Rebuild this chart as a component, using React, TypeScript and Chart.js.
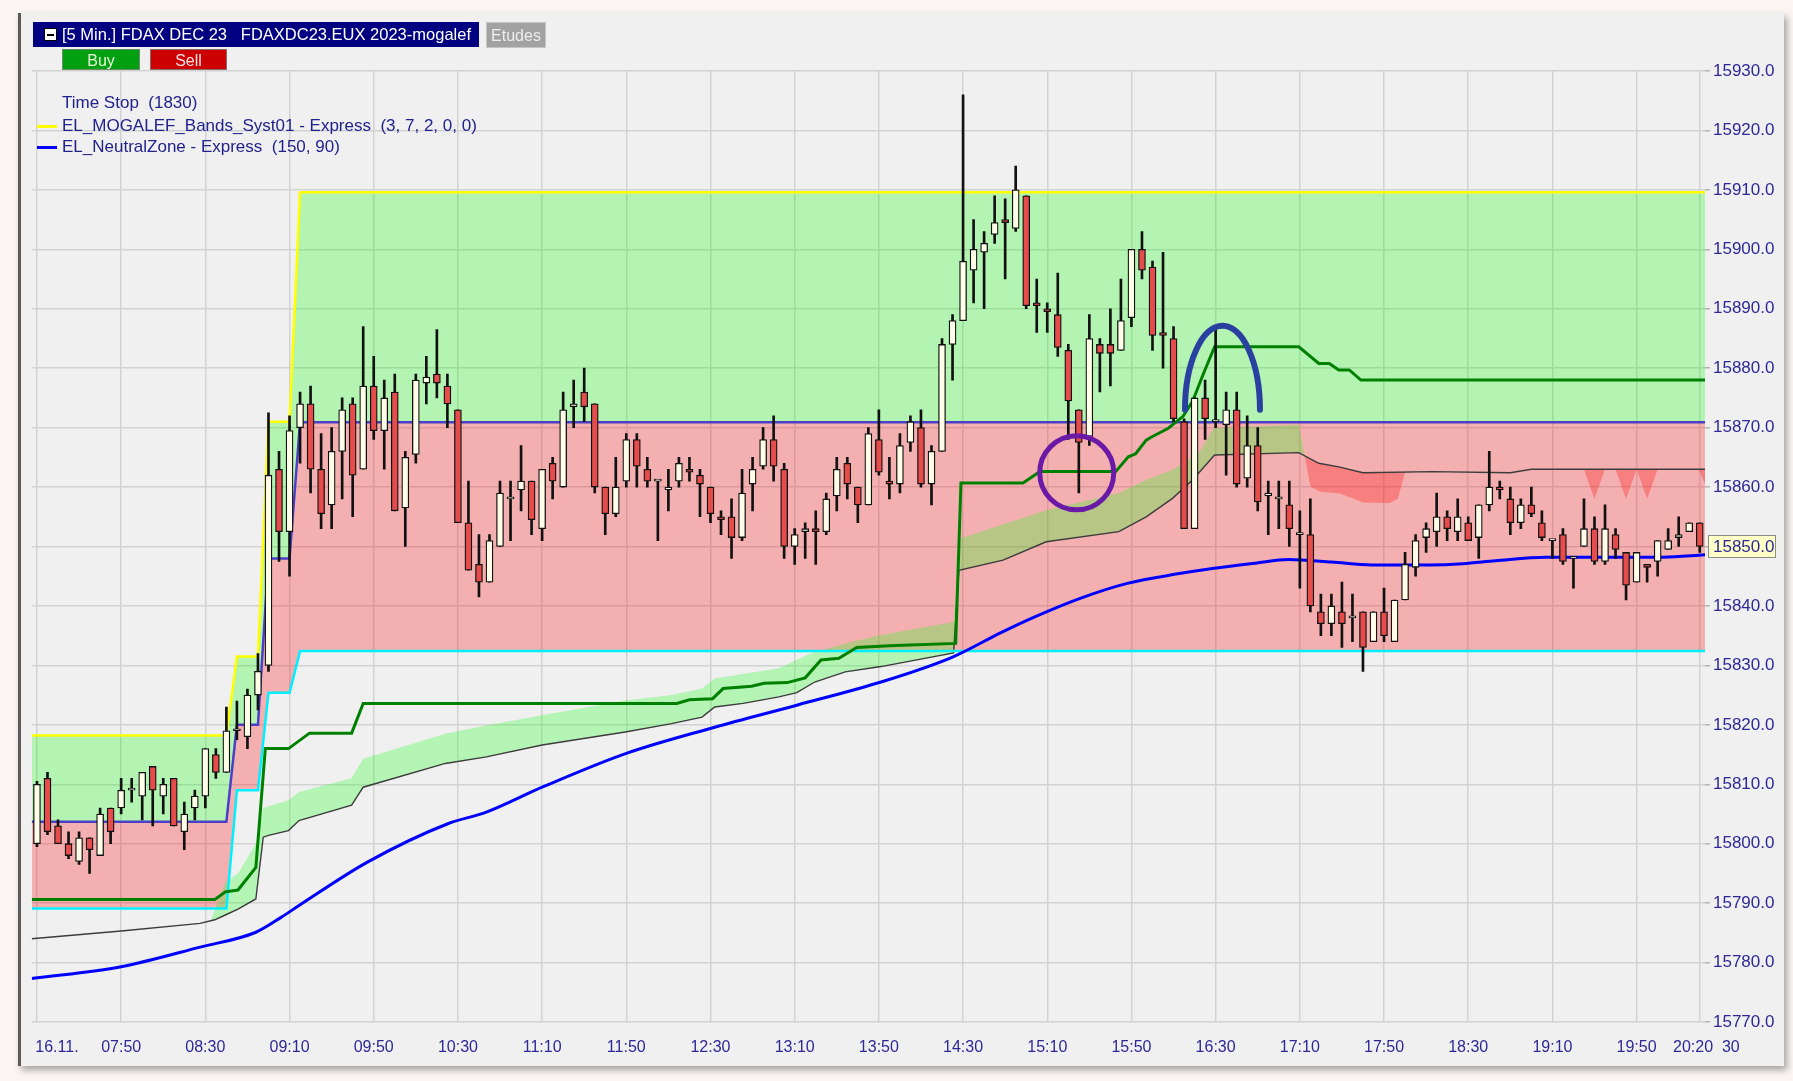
import React, { useEffect, useRef } from 'react';
import { Chart, registerables } from 'chart.js';

// ---------- data ----------
const tickIdx = [0, 8, 16, 24, 32, 40, 48, 56, 64, 72, 80, 88, 96, 104, 112, 120, 128, 136, 144, 152, 158];
const tickText = ['16.11.', '07:50', '08:30', '09:10', '09:50', '10:30', '11:10', '11:50', '12:30', '13:10', '13:50',
  '14:30', '15:10', '15:50', '16:30', '17:10', '17:50', '18:30', '19:10', '19:50', '20:20  30'];

const opens = [
  15800, 15811, 15803, 15800, 15797, 15801, 15798, 15806, 15806, 15809,
  15808, 15813, 15808, 15811, 15802, 15806, 15808, 15815, 15812, 15819,
  15818, 15825, 15830, 15863, 15852.5, 15870, 15874, 15863, 15857, 15866,
  15874, 15863, 15877, 15869.5, 15876, 15856.5, 15865.5, 15877.5, 15879, 15877,
  15873, 15854, 15847, 15844, 15850, 15858, 15859.5, 15861, 15853, 15864,
  15860, 15873.5, 15876, 15874, 15860, 15855.5, 15861, 15868, 15863, 15861,
  15859.5, 15861, 15863, 15862, 15860, 15855, 15855, 15851.5, 15860.5, 15863.5,
  15868, 15863, 15850, 15852.5, 15853, 15852.5, 15858.5, 15864, 15860, 15857,
  15868, 15861, 15860.5, 15867.5, 15870, 15860.5, 15866, 15884, 15888, 15896.5,
  15899.5, 15902.5, 15905, 15903.5, 15909, 15891, 15890, 15889, 15883, 15873,
  15868.5, 15884, 15884, 15883, 15888.5, 15900, 15897, 15886, 15885, 15871,
  15853, 15875, 15871, 15870.5, 15873, 15861.5, 15867, 15858.5, 15858, 15857,
  15852, 15852, 15839, 15837, 15839, 15838, 15839, 15834, 15839, 15834,
  15841, 15846.5, 15851.5, 15852.5, 15855, 15852.5, 15854, 15851.5, 15857, 15860,
  15858, 15854, 15857, 15854, 15851, 15852, 15848, 15850, 15853, 15847.5,
  15852, 15849, 15844, 15847, 15847.5, 15849.5, 15851.5, 15852.5, 15854];
const highs = [
  15810.5, 15812, 15804, 15802, 15802, 15801, 15806, 15806, 15811, 15811,
  15812, 15813, 15811, 15811, 15807, 15809, 15816, 15816, 15823, 15824,
  15826, 15832, 15872.5, 15866, 15872, 15876, 15877, 15869, 15870, 15875,
  15875, 15887, 15882, 15878, 15879, 15866, 15879, 15882, 15886.5, 15879,
  15873, 15861, 15852, 15852, 15861, 15861, 15867, 15861, 15863, 15865,
  15876, 15878, 15880, 15874, 15860, 15865, 15869, 15869, 15865, 15861,
  15863, 15865, 15865, 15863, 15860, 15856, 15858, 15863, 15865, 15870,
  15872, 15864, 15853, 15854, 15856, 15859, 15865, 15865, 15860, 15870,
  15873, 15865, 15869, 15872, 15873, 15867, 15885, 15889, 15926, 15905,
  15903, 15909, 15908.5, 15914, 15909, 15895, 15891, 15896, 15884, 15873,
  15889, 15885, 15890, 15895, 15900, 15903, 15898, 15899.5, 15887, 15871.5,
  15875, 15878, 15887, 15876, 15876, 15872, 15870, 15861, 15861, 15861,
  15856, 15858, 15842, 15842, 15844, 15842, 15839, 15839, 15843, 15841,
  15849, 15852, 15854, 15859, 15856, 15858, 15855, 15857, 15866, 15861,
  15860, 15858, 15860, 15856, 15851, 15853, 15848, 15858, 15855, 15857,
  15853, 15849, 15849, 15847, 15851, 15853, 15855, 15854, 15854];
const lows = [
  15799.5, 15801.5, 15800, 15797.5, 15796.5, 15795, 15798, 15800, 15805, 15807,
  15804, 15803, 15805, 15803, 15799, 15804, 15806, 15811, 15812, 15817.5,
  15816, 15822.5, 15829, 15847.5, 15845, 15864, 15859, 15853, 15853, 15858,
  15855, 15863, 15868, 15863, 15856, 15850, 15864, 15874, 15875, 15870,
  15854, 15846, 15841.5, 15844, 15850, 15851, 15856, 15852, 15851, 15858,
  15860, 15870, 15871, 15859, 15852, 15855, 15860, 15860, 15860, 15851,
  15856, 15860, 15861, 15855, 15854, 15852, 15848, 15851, 15856, 15863,
  15861, 15848, 15847, 15848, 15847, 15852, 15856, 15858, 15854, 15857,
  15862, 15858, 15859, 15866, 15860, 15857, 15866, 15878, 15888, 15891,
  15890, 15901, 15895, 15903, 15890, 15886, 15886, 15882, 15868, 15859,
  15867, 15876, 15877, 15883, 15887, 15895, 15883, 15880, 15871, 15853,
  15853, 15868, 15870, 15862, 15860, 15860, 15856, 15852, 15853, 15850,
  15843, 15839, 15835, 15835, 15833, 15834, 15829, 15834, 15834, 15834,
  15841, 15845, 15849, 15850, 15851, 15851, 15851, 15848, 15856, 15858,
  15852, 15853, 15855, 15851, 15848, 15847, 15843, 15850, 15847, 15847,
  15848, 15841, 15844, 15844, 15845, 15849.5, 15850, 15852.5, 15849];
const closes = [
  15810, 15802, 15800, 15798, 15801, 15799, 15805, 15802, 15809, 15809,
  15812, 15809, 15810, 15803, 15805, 15808, 15816, 15812, 15819, 15819,
  15825, 15829, 15862, 15852.5, 15869.5, 15874, 15863, 15855.5, 15866, 15873,
  15862, 15877, 15869.5, 15875, 15856, 15865, 15878, 15878.5, 15877.5, 15874,
  15854, 15846, 15844, 15851, 15859, 15858, 15861, 15854.5, 15863, 15861,
  15873, 15874, 15873.5, 15860, 15855.5, 15860, 15868, 15863.5, 15861, 15861,
  15860, 15864, 15862.5, 15860.5, 15855.5, 15854.5, 15851.5, 15859, 15863, 15868,
  15863.5, 15850, 15852, 15853, 15852.5, 15858, 15863, 15860.5, 15857, 15869,
  15862.5, 15860.5, 15867, 15871, 15860.5, 15866, 15884, 15888, 15898, 15900,
  15901, 15904.5, 15904.5, 15910, 15890.5, 15890.5, 15889.5, 15883.5, 15874.5, 15867.5,
  15885, 15882.5, 15882.5, 15888, 15900, 15896.5, 15885.5, 15885.5, 15871.5, 15853,
  15875, 15871.5, 15871, 15873, 15860.5, 15867, 15857.5, 15859, 15858, 15853,
  15852, 15840, 15837, 15840, 15837, 15838, 15833, 15839, 15835, 15841,
  15847, 15851, 15853, 15855, 15853, 15855, 15851, 15857, 15860, 15859.5,
  15854, 15857, 15855.5, 15851.5, 15851, 15847.5, 15848, 15853, 15847.5, 15853,
  15849.5, 15843.5, 15849, 15846.5, 15851, 15851, 15852, 15854, 15850];

// Mogalef bands (step vertices, x in bar units)
const bandX = [-0.5, 18, 19, 21, 22, 24, 25, 158.5];
const bandUpper = [15818.2, 15818.2, 15831.5, 15831.5, 15871, 15871, 15909.6, 15909.6];
const bandMedian = [15803.7, 15803.7, 15820, 15820, 15848, 15848, 15870.9, 15870.9];
const bandLower = [15789.1, 15789.1, 15809, 15809, 15825.4, 15825.4, 15832.4, 15832.4];

// cloud: thin dark line (A) and its companion edge (B)
const cloudAX = [-0.5, 8, 15.5, 16.9, 17.9, 19.1, 20.8, 21.5, 22, 23.9, 24.9, 29.9, 31, 38.8, 42.7, 48, 55.9, 60.3, 63.2, 64.4,
  67.1, 70.5, 72.2, 73.9, 76.8, 80.2, 87.1, 87.6, 91.8, 95.9, 102.8, 105.4, 107.9, 109.8, 111.9, 119.9, 121.8, 123.7, 126,
  132.6, 140, 142, 158.5];
const cloudAY = [15784, 15785.3, 15786.6, 15787.2, 15788, 15789, 15790.7, 15801.1, 15801.4, 15802.2, 15803.9, 15806.5, 15809.5,
  15813.5, 15814.6, 15816.6, 15818.8, 15820.2, 15821.3, 15823, 15823.6, 15824.7, 15825.4, 15827.2, 15828.9, 15829.8, 15832.1,
  15846, 15847.7, 15850.8, 15852.5, 15855, 15858.1, 15861.2, 15865.4, 15865.8, 15864, 15863.4, 15862.4, 15862.6, 15862.4,
  15863, 15863];
const cloudBX = [-0.5, 8, 15.5, 16.5, 17.9, 19.1, 20.8, 21.5, 23.9, 24.9, 29.9, 31, 38.8, 42.7, 48, 55.9, 60.3, 63.2, 64.4,
  70.5, 73.5, 76.8, 80.2, 87.1, 87.8, 95.9, 102.8, 105.4, 107.9, 110.4, 111.8, 119.9, 121, 121.9, 123.8, 125, 126, 128.5,
  129.3, 130, 132.6, 140, 142, 147, 148, 149, 150, 151, 152, 153, 154, 157.9, 158.5];
const cloudBY = [15784, 15785.3, 15786.6, 15787, 15793.5, 15795, 15800, 15806, 15807.3, 15808.7, 15811, 15814.3, 15818.5,
  15819.9, 15821.6, 15824.1, 15825, 15826.1, 15827.8, 15829.5, 15832, 15833.7, 15835.1, 15837.3, 15851.4, 15856.1, 15859,
  15861.2, 15862.9, 15865.7, 15869.9, 15870.5, 15860.1, 15859.2, 15858.9, 15858.1, 15857.4, 15857.3, 15858, 15862.5,
  15862.6, 15862.4, 15863, 15863, 15858, 15863, 15863, 15858, 15863, 15858, 15863, 15863, 15860.5];

// dark green stop line
const stopX = [-0.5, 16.9, 17.9, 19.1, 20.8, 21.7, 23.9, 25.9, 29.9, 31, 60.8, 62, 64.2, 65.2, 67.9, 69.1, 71.3, 73, 74.5,
  76.2, 77.9, 81, 87.3, 87.8, 93.7, 95.3, 102.5, 103.7, 104.4, 105.4, 106, 107.5, 108.9, 109.8, 110.8, 111.9, 119.9, 121.8,
  122.8, 123.7, 124.7, 125.8, 158.5];
const stopY = [15790.6, 15790.6, 15791.9, 15792.2, 15796, 15816, 15816, 15818.6, 15818.6, 15823.6, 15823.6, 15824.2, 15824.4,
  15826.1, 15826.5, 15827, 15827.1, 15827.9, 15830.9, 15831.2, 15833, 15833.3, 15833.7, 15860.7, 15860.7, 15862.6, 15862.6,
  15865.1, 15865.6, 15867.9, 15868.5, 15869.9, 15871.9, 15874.4, 15878.9, 15883.6, 15883.6, 15880.8, 15880.8, 15879.7,
  15879.7, 15878, 15878];

// EL_NeutralZone (blue)
const neutralX = [-0.5, 8, 15.5, 20.8, 23.2, 24.9, 31.4, 39.1, 42.7, 48, 56, 64.4, 72.2, 80.2, 87, 91.7, 94.6, 99, 103.6,
  108.4, 111.7, 115.8, 118.9, 123, 126.8, 132.3, 135.5, 138.6, 143.4, 154.5, 158.5];
const neutralY = [15777.3, 15779.3, 15782.6, 15785.1, 15787.6, 15789.6, 15796.9, 15803.4, 15805.3, 15809.5, 15815.2, 15819.6,
  15823.3, 15827.2, 15831.4, 15835.6, 15838, 15841.2, 15843.8, 15845.4, 15846.3, 15847.2, 15847.8, 15847.4, 15846.9,
  15846.9, 15847.1, 15847.6, 15848.2, 15848.2, 15848.6];

// hand-drawn marks (data coordinates)
const circleMark = { x: 98.8, y: 15862.4 };
const archMark = { x: 112.65, y: 15873 };

// ---------- styles ----------
const FONT = "'Liberation Sans', Arial, sans-serif";
const AXIS_TEXT = '#2d2896';
const GRID = '#d2d2d2';
const GREEN_FILL = 'rgba(0,255,0,0.254)';
const RED_FILL = 'rgba(255,0,0,0.265)';
const CLOUD_UP = 'rgba(20,255,20,0.27)';
const CLOUD_DOWN = 'rgba(255,0,0,0.28)';
const CREAM = '#fffde8';
const BEAR = '#e64c4c';

Chart.register(...registerables);

const bgPlugin = {
  id: 'plotBg',
  beforeDraw(chart: any) {
    const { ctx, chartArea: a } = chart;
    ctx.save();
    ctx.fillStyle = '#f0f0f0';
    ctx.fillRect(a.left, a.top, a.right - a.left, a.bottom - a.top);
    ctx.restore();
  },
};

const marksPlugin = {
  id: 'marks',
  afterDraw(chart: any) {
    const { ctx } = chart;
    const xs = chart.scales.x;
    const ys = chart.scales.y;
    ctx.save();
    // purple circle
    ctx.beginPath();
    ctx.arc(xs.getPixelForValue(circleMark.x), ys.getPixelForValue(circleMark.y), 37, 0, Math.PI * 2);
    ctx.lineWidth = 5;
    ctx.strokeStyle = '#6a1aa6';
    ctx.stroke();
    // blue arch
    ctx.beginPath();
    ctx.ellipse(xs.getPixelForValue(archMark.x), ys.getPixelForValue(archMark.y), 37.5, 84, 0, Math.PI, Math.PI * 2);
    ctx.lineWidth = 6;
    ctx.lineCap = 'round';
    ctx.strokeStyle = '#2a40a0';
    ctx.stroke();
    // last price box
    const last = closes[closes.length - 1];
    const py = ys.getPixelForValue(last);
    const bx = chart.chartArea.right + 3;
    ctx.fillStyle = '#ffffc8';
    ctx.fillRect(bx, py - 11.5, 68, 23);
    ctx.lineWidth = 1;
    ctx.strokeStyle = '#8a8a8a';
    ctx.strokeRect(bx + 0.5, py - 11, 67, 22);
    ctx.fillStyle = AXIS_TEXT;
    ctx.font = `17px ${FONT}`;
    ctx.textBaseline = 'middle';
    ctx.textAlign = 'left';
    ctx.fillText(last.toFixed(1), bx + 5, py + 1);
    ctx.restore();
  },
};

const pts = (xs: number[], ys: number[]) => xs.map((x, k) => ({ x, y: ys[k] }));

const lineDs = (data: any[], color: string, width: number, order: number, extra: any = {}) => ({
  type: 'line',
  data,
  borderColor: color,
  borderWidth: width,
  pointRadius: 0,
  tension: 0,
  fill: false,
  order,
  ...extra,
});

export default function App() {
  const ref = useRef<HTMLCanvasElement>(null);

  useEffect(() => {
    const canvas = ref.current as HTMLCanvasElement;
    const bodies = opens.map((o, i) => ({ x: i, y: [o, closes[i]] }));
    const wicks = lows.map((l, i) => ({ x: i, y: [l, highs[i]] }));
    const bodyColors = opens.map((o, i) => (closes[i] >= o ? CREAM : BEAR));

    const labelFor = (v: number) => {
      const k = tickIdx.indexOf(v);
      if (k < 0) return '';
      if (k === 0) return '         ' + tickText[0];
      if (k === tickIdx.length - 1) return '   ' + tickText[k];
      return tickText[k];
    };

    const chart = new Chart(canvas, {
      type: 'line',
      data: {
        datasets: [
          // 0 upper band fill (green)
          lineDs(pts(bandX, bandUpper), 'rgba(0,0,0,0)', 0, 20, { fill: { target: 1, above: GREEN_FILL, below: GREEN_FILL } }),
          // 1 median fill (red)
          lineDs(pts(bandX, bandMedian), 'rgba(0,0,0,0)', 0, 19, { fill: { target: 2, above: RED_FILL, below: RED_FILL } }),
          // 2 lower band line (cyan)
          lineDs(pts(bandX, bandLower), '#00f0ff', 2.5, 15),
          // 3 cloud edge (fill only)
          lineDs(pts(cloudBX, cloudBY), 'rgba(0,0,0,0)', 0, 18, {
            fill: { target: 4, above: CLOUD_UP, below: CLOUD_DOWN },
          }),
          // 4 cloud line
          lineDs(pts(cloudAX, cloudAY), '#3c3c3c', 1.4, 17),
          // 5 upper band line
          lineDs(pts(bandX, bandUpper), '#ffff00', 2.5, 14),
          // 6 median line
          lineDs(pts(bandX, bandMedian), '#4a40c8', 2.5, 13),
          // 7 green stop
          lineDs(pts(stopX, stopY), '#008000', 3, 12),
          // 8 neutral zone
          lineDs(pts(neutralX, neutralY), '#0000ff', 3, 11, { cubicInterpolationMode: 'monotone' }),
          // 9 wicks
          {
            type: 'bar',
            data: wicks,
            backgroundColor: '#111111',
            borderWidth: 0,
            barThickness: 2,
            grouped: false,
            order: 2,
          },
          // 10 bodies
          {
            type: 'bar',
            data: bodies,
            backgroundColor: bodyColors,
            borderColor: '#111111',
            borderWidth: 1.3,
            borderSkipped: false,
            barThickness: 7,
            minBarLength: 2,
            grouped: false,
            order: 1,
          },
        ] as any,
      },
      options: {
        responsive: false,
        maintainAspectRatio: false,
        animation: false,
        events: [],
        layout: { padding: { left: 31.7, top: 71, right: 8, bottom: 19 } },
        plugins: {
          legend: { display: false },
          tooltip: { enabled: false },
          filler: { drawTime: 'beforeDatasetDraw', propagate: false },
        } as any,
        scales: {
          x: {
            type: 'linear',
            min: -0.5,
            max: 158.5,
            offset: false,
            afterBuildTicks: (s: any) => {
              s.ticks = tickIdx.map((v) => ({ value: v }));
            },
            afterFit: (s: any) => {
              s.height = 40;
              s.paddingLeft = 0;
              s.paddingRight = 0;
            },
            grid: { color: GRID, lineWidth: 1.5, drawTicks: false, offset: false },
            border: { display: false },
            ticks: {
              autoSkip: false,
              maxRotation: 0,
              minRotation: 0,
              padding: 16,
              color: AXIS_TEXT,
              font: { family: FONT, size: 16 },
              callback: (v: any) => labelFor(Number(v)),
            },
          },
          y: {
            type: 'linear',
            position: 'right',
            min: 15770,
            max: 15930,
            afterFit: (s: any) => {
              s.width = 80;
            },
            grid: { color: GRID, lineWidth: 1.5, tickLength: 5, tickColor: '#b4b4b4' },
            border: { display: false },
            ticks: {
              stepSize: 10,
              padding: 3,
              color: AXIS_TEXT,
              font: { family: FONT, size: 17 },
              callback: (v: any) => Number(v).toFixed(1),
            },
          },
        } as any,
      },
      plugins: [bgPlugin, marksPlugin],
    } as any);

    return () => chart.destroy();
  }, []);

  const txt: React.CSSProperties = { position: 'absolute', fontFamily: FONT, whiteSpace: 'pre', zIndex: 3 };

  return (
    <div style={{ position: 'absolute', left: 0, top: 0, width: 1793, height: 1081, overflow: 'hidden', background: '#fbf6f4' }}>
      <div style={{ position: 'absolute', left: 18, top: 13, width: 1763, height: 1053, background: '#f0f0f0', borderLeft: '3px solid #5a5a5a', boxShadow: '3px 4px 7px rgba(0,0,0,0.35)', zIndex: 0 }} />
      <canvas ref={ref} width={1793} height={1081} style={{ position: 'absolute', left: 0, top: 0, width: 1793, height: 1081, zIndex: 1 }} />
      {/* title bar */}
      <div style={{ position: 'absolute', left: 33, top: 22, width: 446, height: 25, background: '#000080', zIndex: 3 }} />
      <div style={{ position: 'absolute', left: 44, top: 28, width: 11, height: 11, background: '#ffffff', border: '1px solid #000', zIndex: 4 }}>
        <div style={{ position: 'absolute', left: 2, top: 4.5, width: 7, height: 2, background: '#000' }} />
      </div>
      <div style={{ ...txt, left: 62, top: 22, lineHeight: '25px', fontSize: 16.5, color: '#ffffff' }}>{'[5 Min.] FDAX DEC 23   FDAXDC23.EUX 2023-mogalef'}</div>
      <div style={{ ...txt, left: 486, top: 22, width: 60, height: 26, lineHeight: '26px', textAlign: 'center', fontSize: 16, color: '#eeeeee', background: '#a2a2a2', boxSizing: 'border-box', border: '1px solid #c4c4c4' }}>Etudes</div>
      <div style={{ ...txt, left: 62, top: 49, width: 78, height: 21, lineHeight: '21px', textAlign: 'center', fontSize: 16, color: '#eaffd8', background: '#00a010', boxSizing: 'border-box', border: '1px solid #6a8a6a' }}>Buy</div>
      <div style={{ ...txt, left: 150, top: 49, width: 77, height: 21, lineHeight: '21px', textAlign: 'center', fontSize: 16, color: '#ffe4e4', background: '#cc0000', boxSizing: 'border-box', border: '1px solid #8a6a6a' }}>Sell</div>
      {/* legend */}
      <div style={{ ...txt, left: 62, top: 93, lineHeight: '20px', fontSize: 17, color: '#22228c' }}>{'Time Stop  (1830)'}</div>
      <div style={{ position: 'absolute', left: 37, top: 125, width: 20, height: 3, background: '#ffff00', zIndex: 3 }} />
      <div style={{ ...txt, left: 62, top: 116, lineHeight: '20px', fontSize: 17, color: '#22228c' }}>{'EL_MOGALEF_Bands_Syst01 - Express  (3, 7, 2, 0, 0)'}</div>
      <div style={{ position: 'absolute', left: 37, top: 146, width: 20, height: 3, background: '#0000ff', zIndex: 3 }} />
      <div style={{ ...txt, left: 62, top: 137, lineHeight: '20px', fontSize: 17, color: '#22228c' }}>{'EL_NeutralZone - Express  (150, 90)'}</div>
    </div>
  );
}
